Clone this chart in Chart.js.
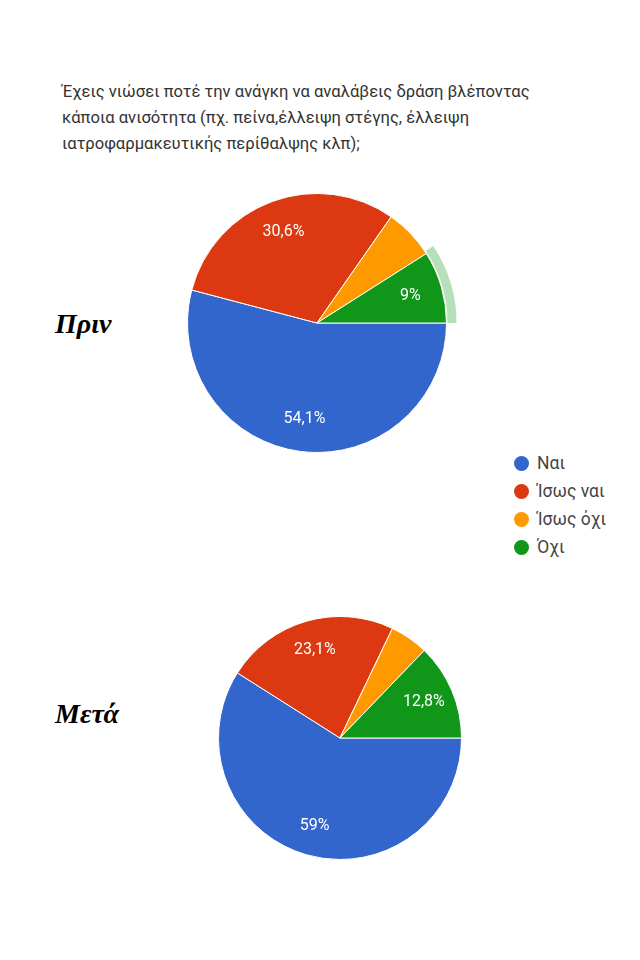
<!DOCTYPE html>
<html lang="el">
<head>
<meta charset="UTF-8">
<title>Πριν / Μετά</title>
<script src="https://cdn.jsdelivr.net/npm/chart.js"></script>
<style>
  body { margin: 0; width: 640px; height: 960px; background: #fff; position: relative; font-family: Roboto, Arial, sans-serif; }
  #titlos { position: absolute; left: 62px; top: 79px; width: 480px; font-size: 16.6px; line-height: 26px; color: #333; }
  .etiketa { position: absolute; left: 55px; font-family: "Liberation Serif", serif; font-style: italic; font-weight: bold; font-size: 28px; color: #000; }
  .pita { position: absolute; }
  #ypomnima { position: absolute; left: 514px; top: 449px; font-size: 17.5px; color: #444; }
  #ypomnima div { height: 28px; line-height: 22px; display: flex; align-items: center; }
  #ypomnima span.kouk { display: inline-block; width: 15px; height: 15px; border-radius: 50%; margin-right: 8px; }
</style>
</head>
<body>

<div id="titlos">Έχεις νιώσει ποτέ την ανάγκη να αναλάβεις δράση βλέποντας κάποια ανισότητα (πχ. πείνα,έλλειψη στέγης, έλλειψη ιατροφαρμακευτικής περίθαλψης κλπ);</div>

<div class="etiketa" style="top:308px">Πριν</div>
<div class="etiketa" style="top:698px">Μετά</div>

<div class="pita" style="left:177px; top:183px; width:280px; height:280px"><canvas id="prin"></canvas></div>
<div class="pita" style="left:208px; top:606px; width:264px; height:264px"><canvas id="meta"></canvas></div>

<div id="ypomnima"></div>

<script>
const katigories = ['Ναι', 'Ίσως ναι', 'Ίσως όχι', 'Όχι'];
const xromata = ['#3366cc', '#dc3912', '#ff9900', '#109618'];
const prinTimes = [54.1, 30.6, 6.3, 9];
const metaTimes = [59, 23.1, 5.1, 12.8];
const etiketesPrin = ['54,1%', '30,6%', '', '9%'];
const etiketesMeta = ['59%', '23,1%', '', '12,8%'];

// legend
const yp = document.getElementById('ypomnima');
katigories.forEach((k, i) => {
  const d = document.createElement('div');
  d.innerHTML = '<span class="kouk" style="background:' + xromata[i] + '"></span>' + k;
  yp.appendChild(d);
});

// percent labels inside slices
const pososta = {
  id: 'pososta',
  afterDatasetsDraw(chart, args, opts) {
    const ctx = chart.ctx;
    const meta = chart.getDatasetMeta(0);
    ctx.save();
    ctx.fillStyle = '#fff';
    ctx.font = '16px Roboto, Arial, sans-serif';
    ctx.textAlign = 'center';
    ctx.textBaseline = 'middle';
    meta.data.forEach((arc, i) => {
      const t = opts.keimena[i];
      if (!t) return;
      const mid = (arc.startAngle + arc.endAngle) / 2;
      const r = arc.outerRadius * 0.75;
      ctx.fillText(t, arc.x + Math.cos(mid) * r, arc.y + Math.sin(mid) * r);
    });
    ctx.restore();
  }
};

// light ring around the highlighted slice
const daxtylidi = {
  id: 'daxtylidi',
  afterDatasetsDraw(chart, args, opts) {
    if (opts.index == null) return;
    const arc = chart.getDatasetMeta(0).data[opts.index];
    const ctx = chart.ctx;
    ctx.save();
    ctx.beginPath();
    ctx.arc(arc.x, arc.y, arc.outerRadius + 10, arc.startAngle - 0.02, arc.endAngle);
    ctx.arc(arc.x, arc.y, arc.outerRadius + 1, arc.endAngle, arc.startAngle - 0.02, true);
    ctx.closePath();
    ctx.fillStyle = 'rgba(16,150,24,0.3)';
    ctx.fill();
    ctx.restore();
  }
};

function pita(id, times, keimena, dax) {
  new Chart(document.getElementById(id), {
    type: 'pie',
    data: {
      labels: katigories,
      datasets: [{
        data: times,
        backgroundColor: xromata,
        borderColor: '#fff',
        borderWidth: 1,
        hoverOffset: 0
      }]
    },
    options: {
      responsive: true,
      maintainAspectRatio: false,
      animation: false,
      events: [],
      rotation: 90,
      layout: { padding: 10 },
      plugins: {
        legend: { display: false },
        tooltip: { enabled: false },
        pososta: { keimena: keimena },
        daxtylidi: { index: dax }
      }
    },
    plugins: [pososta, daxtylidi]
  });
}

pita('prin', prinTimes, etiketesPrin, 3);
pita('meta', metaTimes, etiketesMeta, null);
</script>

</body>
</html>
